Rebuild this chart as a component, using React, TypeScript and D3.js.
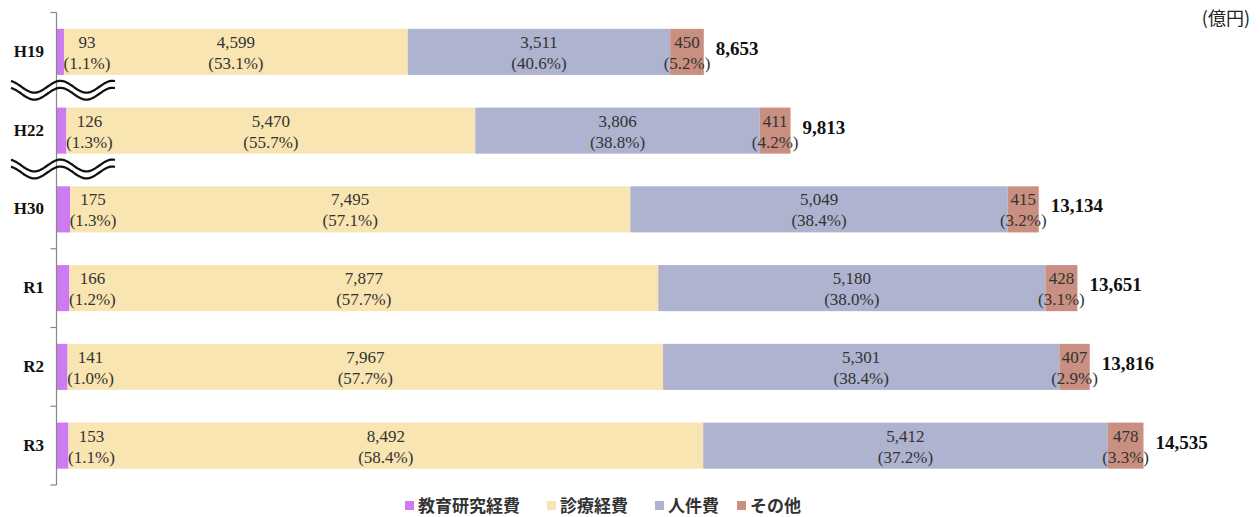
import { useRef, useEffect } from 'react';
import { select, scaleLinear, scaleBand, line, curveBasis, range } from 'd3';

const years = ['H19', 'H22', 'H30', 'R1', 'R2', 'R3'];
const seriesNames = ['教育研究経費', '診療経費', '人件費', 'その他'];
const seriesColors = ['#cd7bf2', '#f9e5b1', '#aeb3cf', '#c98f80'];

const education = [93, 126, 175, 166, 141, 153];
const medical = [4599, 5470, 7495, 7877, 7967, 8492];
const personnel = [3511, 3806, 5049, 5180, 5301, 5412];
const other = [450, 411, 415, 428, 407, 478];
const totals = [8653, 9813, 13134, 13651, 13816, 14535];

const eduPct = ['1.1%', '1.3%', '1.3%', '1.2%', '1.0%', '1.1%'];
const medPct = ['53.1%', '55.7%', '57.1%', '57.7%', '57.7%', '58.4%'];
const perPct = ['40.6%', '38.8%', '38.4%', '38.0%', '38.4%', '37.2%'];
const othPct = ['5.2%', '4.2%', '3.2%', '3.1%', '2.9%', '3.3%'];

const breakAfter = ['H19', 'H22'];

export default function App() {
  const svgRef = useRef<SVGSVGElement>(null);

  useEffect(() => {
    document.body.style.margin = '0';
    if (!svgRef.current) return;
    const svg = select(svgRef.current);
    svg.selectAll('*').remove();

    const width = 1260;
    const height = 517;
    svg.attr('width', width).attr('height', height);

    const x = scaleLinear().domain([0, 16000]).range([57, 1253]);
    const y = scaleBand().domain(years).range([12.5, 485]).paddingInner(0.415).paddingOuter(0.2075);
    const step = y.step();
    const axisX = 56.5;

    const series = [education, medical, personnel, other];
    const pcts = [eduPct, medPct, perPct, othPct];
    const fmt = (v: number) => v.toLocaleString('en-US');
    const serif = '"Liberation Serif", serif';

    const bars = svg.append('g');
    const labels = svg.append('g');

    // stacked bars
    years.forEach((yr, i) => {
      let acc = 0;
      const c = y(yr)! + y.bandwidth() / 2;
      series.forEach((s, k) => {
        const x0 = x(acc);
        const x1 = x(acc + s[i]);
        acc += s[i];
        bars.append('rect')
          .attr('x', x0).attr('y', y(yr)!)
          .attr('width', x1 - x0).attr('height', y.bandwidth())
          .attr('fill', seriesColors[k]);

        const lx = k === 0 ? x1 + 23 : (x0 + x1) / 2;
        const t = labels.append('text')
          .attr('text-anchor', 'middle')
          .attr('fill', '#333')
          .style('font-family', serif)
          .style('font-size', '17px');
        t.append('tspan').attr('x', lx).attr('y', c - 4).text(fmt(s[i]));
        t.append('tspan').attr('x', lx).attr('y', c + 17).text(`(${pcts[k][i]})`);
      });

      labels.append('text')
        .attr('x', x(totals[i]) + 12).attr('y', c + 3)
        .attr('fill', '#111')
        .style('font-family', serif)
        .style('font-size', '19px').style('font-weight', 'bold')
        .text(fmt(totals[i]));

      labels.append('text')
        .attr('x', 44).attr('y', c + 5)
        .attr('text-anchor', 'end')
        .attr('fill', '#111')
        .style('font-family', serif)
        .style('font-size', '17px').style('font-weight', 'bold')
        .text(yr);
    });

    // axis line + ticks
    const top = y(years[0])! - step * y.paddingOuter();
    const bottom = y(years[years.length - 1])! + y.bandwidth() + (step - y.bandwidth()) / 2;
    svg.append('line')
      .attr('x1', axisX).attr('x2', axisX).attr('y1', top).attr('y2', bottom)
      .attr('stroke', '#888').attr('stroke-width', 1.2);

    const boundaries = years.map((yr) => y(yr)! - (step - y.bandwidth()) / 2).concat([bottom]);
    boundaries.forEach((b, i) => {
      if (i > 0 && breakAfter.includes(years[i - 1])) return;
      svg.append('line')
        .attr('x1', axisX - 6).attr('x2', axisX).attr('y1', b).attr('y2', b)
        .attr('stroke', '#888').attr('stroke-width', 1.2);
    });

    // axis break waves
    const wave = line<number>()
      .x((d) => 11 + d * 104)
      .y((d) => Math.sin(d * Math.PI * 4 + Math.PI * 0.6) * -6)
      .curve(curveBasis);
    const pts = range(0, 1.0001, 0.02);
    breakAfter.forEach((yr) => {
      const idx = years.indexOf(yr);
      const b = boundaries[idx + 1];
      const g = svg.append('g').attr('transform', `translate(0,${b - 1})`);
      [-3.5, 3.5].forEach((off) => {
        g.append('path').datum(pts).attr('d', wave)
          .attr('transform', `translate(0,${off})`)
          .attr('fill', 'none').attr('stroke', '#111').attr('stroke-width', 2.2);
      });
    });

    // unit label
    svg.append('text')
      .attr('x', 1250).attr('y', 25)
      .attr('text-anchor', 'end')
      .attr('fill', '#222')
      .style('font-family', '"Noto Sans CJK JP", sans-serif')
      .style('font-size', '18px')
      .text('(億円)');

    // legend
    const legendX = [405, 547, 655, 737];
    seriesNames.forEach((name, k) => {
      svg.append('rect')
        .attr('x', legendX[k]).attr('y', 501)
        .attr('width', 9).attr('height', 9)
        .attr('fill', seriesColors[k]);
      svg.append('text')
        .attr('x', legendX[k] + 13).attr('y', 512)
        .attr('fill', '#333')
        .style('font-family', '"Noto Sans CJK JP", sans-serif')
        .style('font-size', '17px').style('font-weight', 'bold')
        .text(name);
    });
  }, []);

  return <svg ref={svgRef} style={{ display: 'block' }} />;
}
